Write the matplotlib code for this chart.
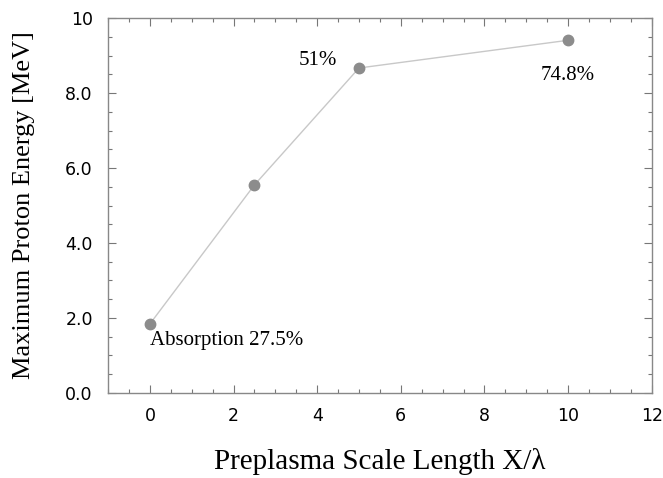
import numpy as np
import matplotlib
matplotlib.use('Agg')
import matplotlib.pyplot as plt
from matplotlib.ticker import MultipleLocator, FixedLocator, FixedFormatter

# preplasma scale length (X/lambda) vs max proton energy (MeV)
scale_length = [0, 2.5, 5, 10]
proton_energy = [1.84, 5.55, 8.67, 9.41]
absorption_labels = ['Absorption 27.5%', '51%', '74.8%']

yticks = [0, 2, 4, 6, 8, 10]
ytick_labels = ['0.0', '2.0', '4.0', '6.0', '8.0', '10']

serif = ['Liberation Serif', 'DejaVu Serif']
sans = ['DejaVu Sans']

fig = plt.figure(figsize=(6.63, 4.78), dpi=100)
ax = fig.add_axes([0.163, 0.178, 0.820, 0.784])

ax.plot(scale_length, proton_energy, color='#c8c8c8', lw=1.0, zorder=1)
ax.plot(scale_length, proton_energy, 'o', color='#8c8c8c', ms=7.5, zorder=2)

ax.set_xlim(-1, 12)
ax.set_ylim(0, 10)
ax.xaxis.set_major_locator(MultipleLocator(2))
ax.xaxis.set_minor_locator(MultipleLocator(0.5))
ax.yaxis.set_major_locator(FixedLocator(yticks))
ax.yaxis.set_major_formatter(FixedFormatter(ytick_labels))
ax.yaxis.set_minor_locator(MultipleLocator(0.5))
ax.tick_params(which='both', direction='in', top=True, right=True,
               color='#777777', width=0.8)
ax.tick_params(which='major', length=6, labelsize=12.5)
ax.tick_params(axis='x', which='major', pad=10)
ax.tick_params(axis='y', which='major', pad=11)
ax.tick_params(which='minor', length=3)
for lab in ax.get_xticklabels() + ax.get_yticklabels():
    lab.set_family(sans)
for sp in ax.spines.values():
    sp.set_color('#888888')
    sp.set_linewidth(1.0)

ax.set_xlabel('Preplasma Scale Length X/λ', family=serif, fontsize=21, labelpad=17)
ax.set_ylabel('Maximum Proton Energy [MeV]', family=serif, fontsize=19, labelpad=22)

ax.text(scale_length[0], 1.39, absorption_labels[0],
        family=serif, fontsize=15, ha='left', va='center')
ax.text(4.47, 8.88, absorption_labels[1],
        family=serif, fontsize=15, ha='right', va='center')
ax.text(scale_length[3], 8.48, absorption_labels[2],
        family=serif, fontsize=15, ha='center', va='center')

fig.savefig('out.png', dpi=100)
